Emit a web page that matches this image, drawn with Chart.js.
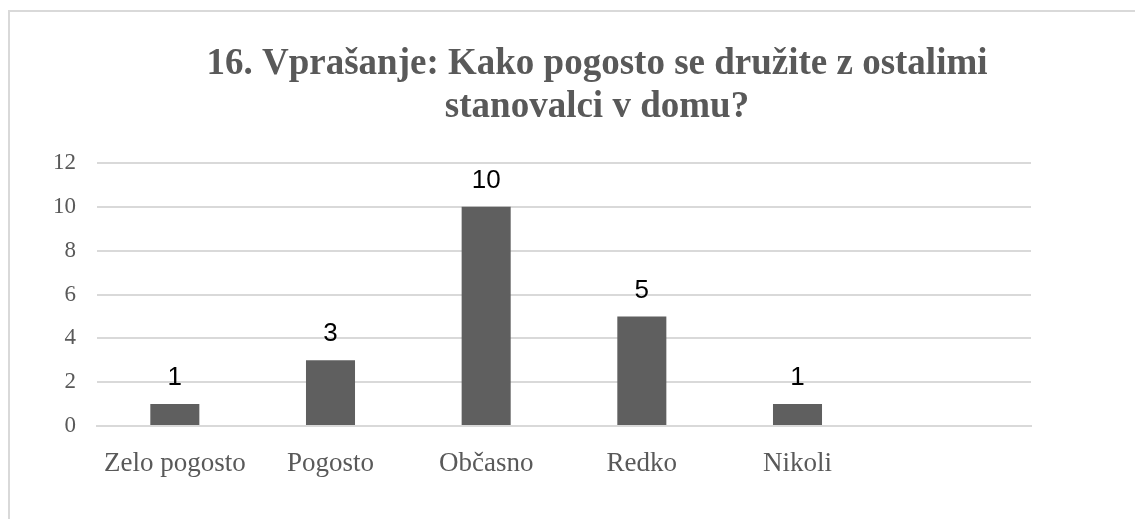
<!DOCTYPE html>
<html>
<head>
<meta charset="utf-8">
<script src="https://cdn.jsdelivr.net/npm/chart.js@4.4.1/dist/chart.umd.min.js"></script>
<style>
  html, body { margin: 0; padding: 0; background: #fff; }
  #wrap { width: 1135px; height: 519px; position: relative; }
</style>
</head>
<body>
<div id="wrap"><canvas id="myChart"></canvas></div>
<script>
// data
const titleLines = ['16. Vprašanje: Kako pogosto se družite z ostalimi', 'stanovalci v domu?'];
const categories = ['Zelo pogosto', 'Pogosto', 'Občasno', 'Redko', 'Nikoli', ''];
const answers = [1, 3, 10, 5, 1, null];
const yTicks = [0, 2, 4, 6, 8, 10, 12];

const grey = '#595959';
const gridGrey = '#d9d9d9';

// frame round the chart + the title, drawn by hand so it can sit off-centre
const framePlugin = {
    id: 'frame',
    beforeDraw(chart) {
        const ctx = chart.ctx;
        ctx.save();
        ctx.strokeStyle = gridGrey;
        ctx.lineWidth = 2;
        ctx.beginPath();
        ctx.moveTo(9, chart.height + 5);
        ctx.lineTo(9, 11);
        ctx.lineTo(chart.width + 5, 11);
        ctx.stroke();

        ctx.fillStyle = grey;
        ctx.font = 'bold 37px "Liberation Serif", "Times New Roman", serif';
        ctx.textAlign = 'center';
        ctx.textBaseline = 'alphabetic';
        ctx.fillText(titleLines[0], 597, 74);
        ctx.fillText(titleLines[1], 597, 117);
        ctx.restore();
    }
};

// value labels above each bar
const valueLabels = {
    id: 'valueLabels',
    afterDatasetsDraw(chart) {
        const ctx = chart.ctx;
        const meta = chart.getDatasetMeta(0);
        ctx.save();
        ctx.fillStyle = '#000';
        ctx.font = '26px "Liberation Sans", "Open Sans", sans-serif';
        ctx.textAlign = 'center';
        ctx.textBaseline = 'middle';
        meta.data.forEach((bar, i) => {
            const v = answers[i];
            if (v === null || v === undefined) return;
            ctx.fillText(String(v), bar.x, bar.y - 26);
        });
        ctx.restore();
    }
};

new Chart(document.getElementById('myChart'), {
    type: 'bar',
    data: {
        labels: categories,
        datasets: [{
            data: answers,
            backgroundColor: '#5f5f5f',
            borderWidth: 0,
            categoryPercentage: 1,
            barPercentage: 0.315
        }]
    },
    options: {
        responsive: true,
        maintainAspectRatio: false,
        animation: false,
        layout: { padding: { left: 0, right: 104, top: 163, bottom: 0 } },
        plugins: {
            legend: { display: false },
            tooltip: { enabled: false },
            title: { display: false }
        },
        scales: {
            x: {
                grid: { display: false, drawTicks: false },
                border: { color: gridGrey, width: 2 },
                ticks: {
                    color: grey,
                    padding: 22,
                    maxRotation: 0,
                    autoSkip: false,
                    font: { family: '"Liberation Serif", "Times New Roman", serif', size: 27 }
                },
                afterFit(scale) { scale.height = 93; }
            },
            y: {
                min: 0,
                max: 12,
                afterBuildTicks(scale) { scale.ticks = yTicks.map(v => ({ value: v })); },
                grid: { color: gridGrey, lineWidth: 2, drawTicks: false },
                border: { display: false },
                ticks: {
                    color: grey,
                    padding: 21,
                    font: { family: '"Liberation Serif", "Times New Roman", serif', size: 23 }
                },
                afterFit(scale) { scale.width = 97; }
            }
        }
    },
    plugins: [framePlugin, valueLabels]
});
</script>
</body>
</html>
